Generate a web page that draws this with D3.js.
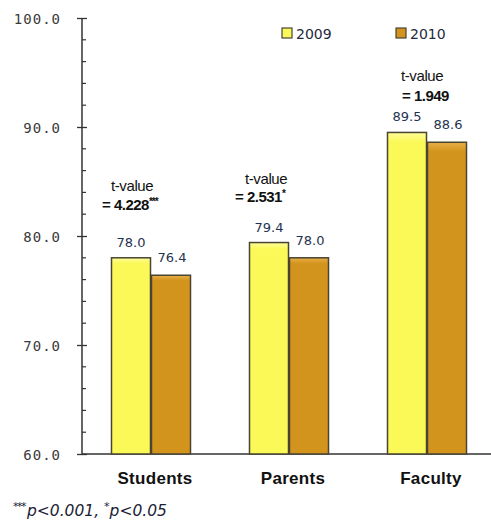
<!DOCTYPE html>
<html><head><meta charset="utf-8">
<script src="https://cdn.jsdelivr.net/npm/d3@7"></script>
<style>body{margin:0;background:#fff}svg{display:block}</style>
</head><body>
<script>
const categories = ["Students", "Parents", "Faculty"];
const seriesNames = ["2009", "2010"];
const values2009 = [78.0, 79.4, 89.5];
const values2010 = [76.4, 78.0, 88.6];
const tLabels = ["= 4.228", "= 2.531", "= 1.949"];
const tStars = ["***", "*", ""];
const yTicks = [60, 70, 80, 90, 100];

const W = 491, H = 523;
const svg = d3.select("body").append("svg").attr("width", W).attr("height", H);

const defs = svg.append("defs");
[["g2009", "#fffe9a", "#fbf957"], ["g2010", "#e8b049", "#d3941d"]].forEach(([id, a, b]) => {
  const g = defs.append("linearGradient").attr("id", id).attr("x1", 0).attr("x2", 0).attr("y1", 0).attr("y2", 1);
  g.append("stop").attr("offset", "0%").attr("stop-color", a);
  g.append("stop").attr("offset", "3%").attr("stop-color", b);
  g.append("stop").attr("offset", "100%").attr("stop-color", b);
});

const x0 = 82, x1 = 496, yTop = 18, yBot = 454;
const x = d3.scaleBand().domain(categories).range([x0, x1]);
const y = d3.scaleLinear().domain([60, 100]).range([yBot, yTop]);
const barW = 39;

// y axis
const yAxis = d3.axisLeft(y).tickValues(yTicks).tickFormat(d3.format(".1f")).tickSize(5).tickPadding(16);
const ya = svg.append("g").attr("transform", `translate(${x0},0)`).call(yAxis);
ya.select(".domain").attr("stroke", "#333").attr("stroke-width", 1.5).attr("d", `M0,${yTop}V${yBot}`);
ya.selectAll(".tick line").attr("stroke", "#333").attr("stroke-width", 1.3).attr("x1", 5).attr("x2", -5);
ya.selectAll(".tick text").attr("font-family", "DejaVu Sans Mono").attr("font-size", 14)
  .attr("letter-spacing", 1).attr("fill", "#3a3a3a").attr("dy", "0.36em");
// minor ticks
const minor = d3.range(62, 100, 2).filter(v => v % 10 !== 0);
svg.append("g").selectAll("line").data(minor).join("line")
  .attr("x1", x0).attr("x2", x0 + 4).attr("y1", d => y(d)).attr("y2", d => y(d))
  .attr("stroke", "#333").attr("stroke-width", 1.2);

// x axis
const xa = svg.append("g").attr("transform", `translate(0,${yBot})`).call(d3.axisBottom(x).tickSize(0).tickPadding(18));
xa.select(".domain").attr("stroke", "#333").attr("stroke-width", 1.5).attr("d", `M${x0},0H${W}`);
xa.selectAll(".tick text").attr("font-family", "Liberation Sans, Arial").attr("font-weight", "bold")
  .attr("font-size", 17).attr("fill", "#111").attr("dx", 4).attr("letter-spacing", 0.3);

// bars
const series = [values2009, values2010];
const grp = svg.append("g");
series.forEach((vals, si) => {
  const cx = c => x(c) + x.bandwidth() / 2 + (si === 0 ? -barW - 0.5 : 0.5);
  grp.selectAll(`.b${si}`).data(categories).join("rect")
    .attr("x", c => cx(c)).attr("width", barW)
    .attr("y", (c, i) => y(vals[i])).attr("height", (c, i) => yBot - y(vals[i]))
    .attr("fill", `url(#g${seriesNames[si]})`).attr("stroke", "#4a4433").attr("stroke-width", 1.5);
  grp.selectAll(`.l${si}`).data(categories).join("text")
    .attr("x", c => cx(c) + barW / 2 + (si === 1 ? 1 : 0))
    .attr("y", (c, i) => y(vals[i]) - (si === 0 ? 11 : 13))
    .attr("text-anchor", "middle").attr("font-family", "DejaVu Sans").attr("font-size", 13)
    .attr("fill", "#1f3350").text((c, i) => vals[i].toFixed(1));
});

// t-value annotations (layout offsets relative to category band)
const annLayout = [{dx: -40, dx2: -49, y1: 191, y2: 210}, {dx: -44, dx2: -54, y1: 184, y2: 202}, {dx: -26, dx2: -25, y1: 81, y2: 101}];
categories.forEach((c, i) => {
  const cx = x(c) + x.bandwidth() / 2;
  const L = annLayout[i];
  svg.append("text").attr("x", cx + L.dx).attr("y", L.y1).attr("font-family", "Liberation Sans, Arial")
    .attr("font-size", 15).attr("letter-spacing", -0.4).attr("fill", "#111").text("t-value");
  const t = svg.append("text").attr("x", cx + L.dx2).attr("y", L.y2).attr("font-family", "Liberation Sans, Arial")
    .attr("font-size", 15).attr("font-weight", "bold").attr("letter-spacing", -0.5).attr("fill", "#111");
  t.append("tspan").text(tLabels[i]);
  if (tStars[i]) t.append("tspan").attr("font-size", 10).attr("dy", -5).attr("letter-spacing", -1).text(tStars[i]);
});

// legend
const legX = [282, 396];
seriesNames.forEach((s, i) => {
  svg.append("rect").attr("x", legX[i]).attr("y", 28).attr("width", 10).attr("height", 10)
    .attr("fill", `url(#g${s})`).attr("stroke", "#4a4433").attr("stroke-width", 1.2);
  svg.append("text").attr("x", legX[i] + 14).attr("y", 38.5).attr("font-family", "DejaVu Sans")
    .attr("font-size", 14).attr("fill", "#1f2a40").text(s);
});

// footnote
const fn = svg.append("text").attr("x", 13).attr("y", 516).attr("font-family", "DejaVu Sans")
  .attr("font-style", "italic").attr("font-size", 15.5).attr("fill", "#1c2236");
fn.append("tspan").attr("font-size", 11).attr("dy", -6).attr("letter-spacing", -1.5).text("***");
fn.append("tspan").attr("dy", 6).attr("dx", 2).text("p<0.001, ");
fn.append("tspan").attr("font-size", 11).attr("dy", -6).text("*");
fn.append("tspan").attr("dy", 6).text("p<0.05");
</script>
</body></html>
